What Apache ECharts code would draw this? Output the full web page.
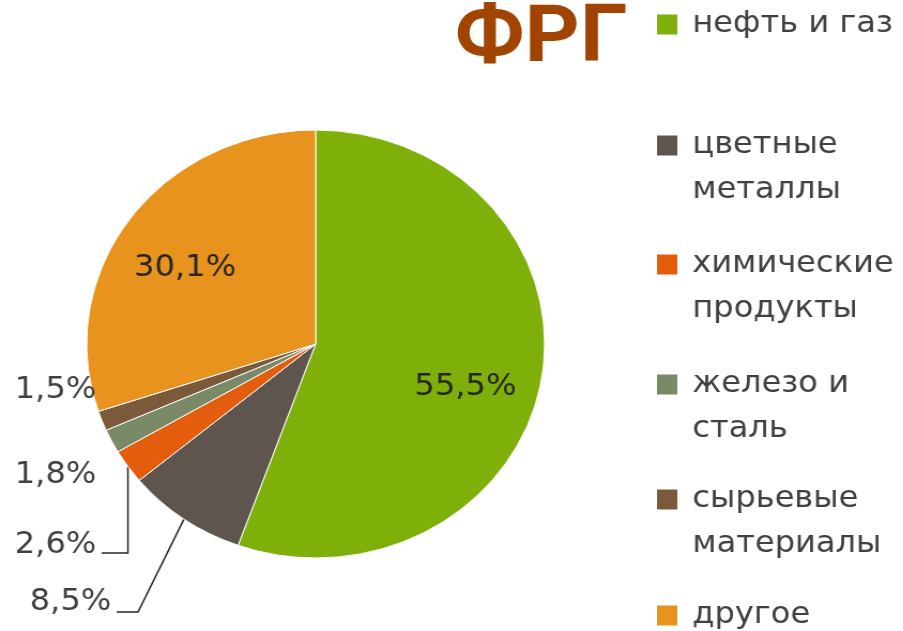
<!DOCTYPE html>
<html>
<head>
<meta charset="utf-8">
<title>ФРГ</title>
<script src="https://cdn.jsdelivr.net/npm/echarts@6/dist/echarts.min.js"></script>
<style>
  html, body { margin: 0; padding: 0; background: #fff; overflow: hidden; }
  /* the source picture is stretched sideways (the pie is an ellipse), so the
     chart is drawn narrower and widened back by the same factor */
  #chart {
    width: 844px;
    height: 631px;
    transform: scaleX(1.07);
    transform-origin: 0 0;
  }
</style>
</head>
<body>
<div id="chart"></div>
<script>
// ----- Data -----
const categories = ['нефть и газ', 'цветные металлы', 'химические продукты',
                    'железо и сталь', 'сырьевые материалы', 'другое'];
const shares = [55.5, 8.5, 2.6, 1.8, 1.5, 30.1];
// legend text, wrapped the way the original wraps it
const legendLines = ['нефть и газ', 'цветные\nметаллы', 'химические\nпродукты',
                     'железо и\nсталь', 'сырьевые\nматериалы', 'другое'];
const colors = ['#7fb00a', '#5e564e', '#e35d0c', '#7b8a66', '#7a5a3a', '#e8931e'];

// ----- Layout (chart px, before the sideways stretch) -----
const CENTER = [295, 344];
const RADIUS = 214;
// where each value label sits; lineY/bendDx = leader line (none if missing)
const labelSpots = [
  { x: 435, y: 387, align: 'center' },
  { x: 104, y: 602, align: 'right', lineY: 612, bendDx: -43 },
  { x: 90,  y: 545, align: 'right', lineY: 553, bendDx: 0 },
  { x: 90,  y: 475, align: 'right' },
  { x: 90,  y: 390, align: 'right' },
  { x: 173, y: 268, align: 'center' }
];
const legendTops = [2, 78, 197, 317, 432, 593];

const FONT = 'DejaVu Sans';

const chart = echarts.init(document.getElementById('chart'));

const pieData = categories.map((name, i) => {
  const spot = labelSpots[i];
  const inside = spot.align === 'center';
  return {
    name,
    value: shares[i],
    itemStyle: { color: colors[i] },
    label: {
      position: inside ? 'inside' : 'outside',
      color: inside ? '#262626' : '#404040'
    },
    labelLine: { show: spot.lineY != null }
  };
});

chart.setOption({
  backgroundColor: '#ffffff',
  animation: false,
  title: {
    text: 'ФРГ',
    left: 425,
    top: 1,
    padding: 0,
    textStyle: {
      fontFamily: 'Roboto',
      fontWeight: 'bold',
      fontSize: 80,
      color: '#a14402'
    }
  },
  legend: categories.map((name, i) => ({
    data: [name],
    left: 614,
    top: legendTops[i],
    padding: 0,
    icon: 'rect',
    itemWidth: 19,
    itemHeight: 20,
    itemStyle: { borderWidth: 0 },
    selectedMode: false,
    // blank first line keeps the square level with the first text line
    formatter: () => legendLines[i].indexOf('\n') >= 0 ? '\n' + legendLines[i] : legendLines[i],
    textStyle: {
      fontFamily: FONT,
      fontSize: 30,
      color: '#404040',
      lineHeight: 45,
      padding: [0, 0, 0, 9]
    }
  })),
  series: [
    {
      type: 'pie',
      center: CENTER,
      radius: RADIUS,
      startAngle: 90,
      clockwise: true,
      avoidLabelOverlap: false,
      silent: true,
      itemStyle: { borderColor: '#ffffff', borderWidth: 1 },
      label: {
        fontFamily: FONT,
        fontSize: 30,
        formatter: p => String(p.value).replace('.', ',') + '%'
      },
      labelLine: {
        length: 0,
        length2: 0,
        lineStyle: { color: '#262626', width: 1.5 }
      },
      labelLayout: function (p) {
        const s = labelSpots[p.dataIndex];
        const out = { x: s.x, y: s.y, align: s.align, verticalAlign: 'middle' };
        if (s.lineY != null && p.labelLinePoints) {
          const edge = p.labelLinePoints[0];
          out.labelLinePoints = [
            edge,
            [edge[0] + s.bendDx, s.lineY],
            [s.x + 5, s.lineY]
          ];
        }
        return out;
      },
      data: pieData
    }
  ]
});

window.addEventListener('resize', () => chart.resize());
</script>
</body>
</html>
